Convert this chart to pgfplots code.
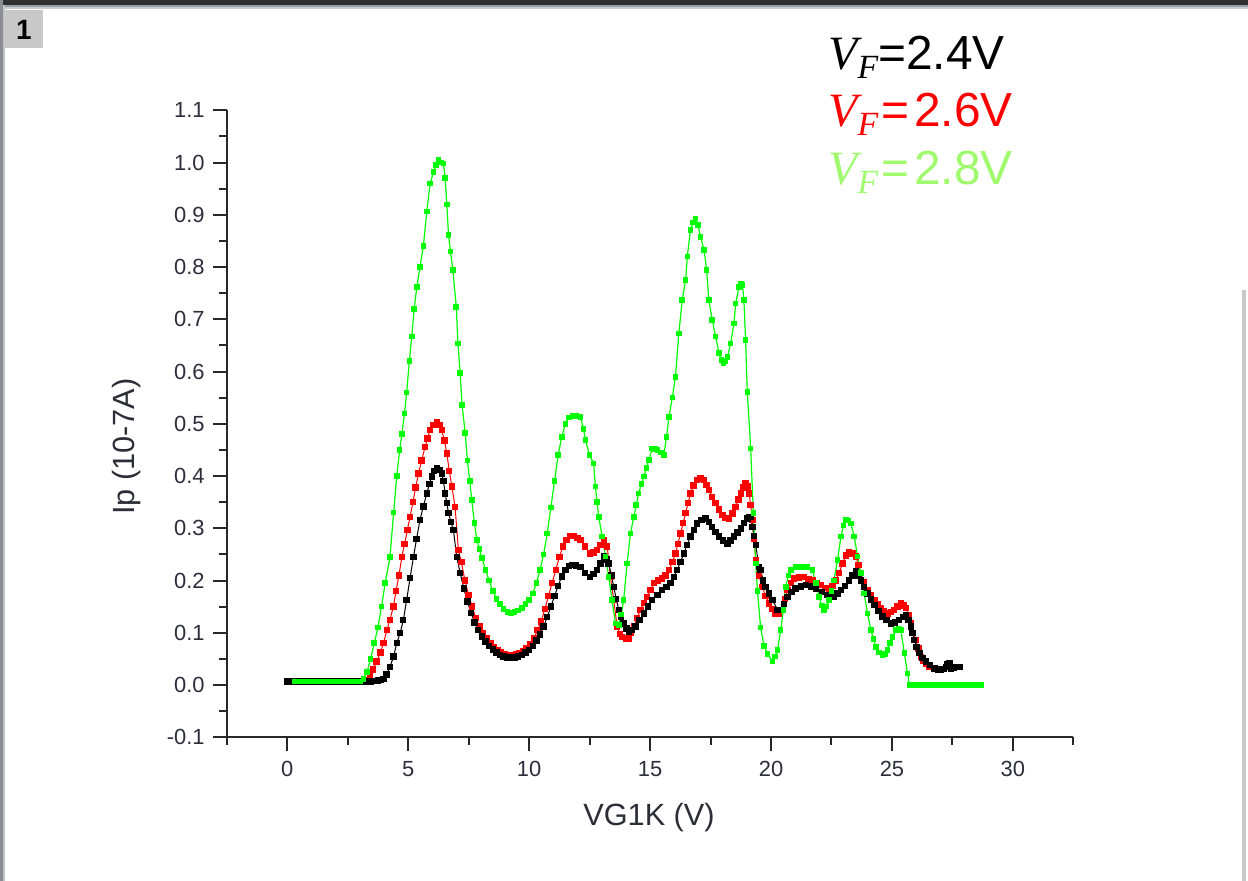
\documentclass[border=0pt]{standalone}
\usepackage{pgfplots}
\usepackage{pgfplotstable}
\pgfplotsset{compat=1.18}
\usepackage{fontspec}
\setmainfont{Liberation Sans}
\newfontfamily\seriffam{Liberation Serif}
\definecolor{cgreen}{RGB}{0,255,0}
\definecolor{lgreen}{RGB}{160,250,110}
\definecolor{axgray}{RGB}{40,40,40}
\definecolor{topbar}{RGB}{48,48,48}
\definecolor{band1}{RGB}{150,158,166}
\definecolor{band2}{RGB}{200,204,208}
\definecolor{lb1}{RGB}{138,142,146}
\definecolor{lb2}{RGB}{192,196,200}
\definecolor{tabgray}{RGB}{200,200,200}
\definecolor{ticktext}{RGB}{45,45,60}
\definecolor{labtext}{RGB}{45,45,55}

\pgfplotstableread{
x y
0.00 0.007
0.15 0.007
0.30 0.007
0.45 0.007
0.60 0.007
0.75 0.007
0.90 0.007
1.05 0.007
1.20 0.007
1.35 0.007
1.50 0.007
1.65 0.007
1.80 0.007
1.95 0.007
2.10 0.007
2.25 0.007
2.40 0.007
2.55 0.007
2.70 0.007
2.85 0.007
3.00 0.007
3.15 0.007
3.30 0.010
3.42 0.016
3.55 0.030
3.70 0.045
3.85 0.062
3.98 0.080
4.12 0.105
4.25 0.125
4.39 0.150
4.50 0.180
4.62 0.210
4.74 0.245
4.85 0.270
4.97 0.297
5.08 0.322
5.20 0.350
5.31 0.378
5.43 0.405
5.56 0.430
5.70 0.456
5.80 0.472
5.91 0.488
6.05 0.498
6.19 0.504
6.30 0.498
6.39 0.488
6.50 0.468
6.60 0.443
6.70 0.410
6.81 0.380
6.94 0.341
7.08 0.258
7.20 0.235
7.35 0.200
7.50 0.172
7.65 0.150
7.80 0.128
7.95 0.112
8.10 0.100
8.25 0.090
8.40 0.080
8.55 0.073
8.70 0.067
8.85 0.063
9.00 0.060
9.15 0.058
9.30 0.058
9.45 0.059
9.60 0.061
9.75 0.065
9.90 0.070
10.05 0.078
10.20 0.090
10.35 0.105
10.50 0.122
10.65 0.145
10.80 0.170
10.95 0.195
11.10 0.220
11.25 0.245
11.40 0.265
11.55 0.278
11.70 0.285
11.85 0.285
12.00 0.282
12.12 0.278
12.30 0.265
12.53 0.252
12.67 0.254
12.81 0.258
12.95 0.268
13.09 0.278
13.23 0.265
13.36 0.207
13.50 0.163
13.64 0.112
13.75 0.098
13.85 0.092
14.00 0.089
14.12 0.089
14.22 0.100
14.33 0.112
14.47 0.128
14.60 0.144
14.74 0.157
14.88 0.169
15.02 0.182
15.16 0.195
15.33 0.200
15.50 0.204
15.64 0.210
15.78 0.220
15.92 0.235
16.05 0.252
16.15 0.270
16.26 0.290
16.37 0.310
16.47 0.329
16.57 0.348
16.67 0.367
16.80 0.382
16.95 0.392
17.09 0.395
17.23 0.392
17.33 0.383
17.43 0.373
17.57 0.360
17.71 0.348
17.85 0.336
17.99 0.325
18.12 0.320
18.26 0.319
18.40 0.328
18.54 0.341
18.65 0.355
18.75 0.367
18.85 0.378
18.95 0.386
19.02 0.380
19.09 0.367
19.16 0.345
19.23 0.316
19.30 0.280
19.37 0.239
19.50 0.210
19.64 0.188
19.78 0.170
19.92 0.156
20.05 0.146
20.19 0.137
20.33 0.137
20.47 0.144
20.58 0.165
20.68 0.182
20.82 0.195
20.95 0.204
21.15 0.206
21.37 0.207
21.55 0.203
21.71 0.200
21.90 0.195
22.06 0.191
22.25 0.186
22.40 0.182
22.55 0.190
22.68 0.200
22.82 0.215
22.96 0.233
23.10 0.248
23.23 0.255
23.37 0.252
23.51 0.246
23.61 0.230
23.71 0.214
23.85 0.197
23.99 0.182
24.13 0.172
24.27 0.163
24.40 0.155
24.54 0.147
24.68 0.142
24.82 0.137
24.96 0.140
25.09 0.144
25.23 0.150
25.37 0.156
25.48 0.152
25.58 0.147
25.68 0.133
25.78 0.118
25.88 0.100
25.99 0.086
26.10 0.070
26.20 0.054
26.30 0.046
26.40 0.041
26.55 0.035
}\reddata

\pgfplotstableread{
x y
0.00 0.007
0.15 0.007
0.30 0.007
0.45 0.007
0.60 0.007
0.75 0.007
0.90 0.007
1.05 0.007
1.20 0.007
1.35 0.007
1.50 0.007
1.65 0.007
1.80 0.007
1.95 0.007
2.10 0.007
2.25 0.007
2.40 0.007
2.55 0.007
2.70 0.007
2.85 0.007
3.00 0.007
3.15 0.007
3.30 0.007
3.45 0.007
3.60 0.008
3.75 0.009
3.88 0.010
3.98 0.012
4.10 0.020
4.25 0.035
4.40 0.055
4.53 0.080
4.67 0.100
4.80 0.124
4.94 0.163
5.08 0.205
5.22 0.245
5.35 0.280
5.49 0.316
5.63 0.342
5.77 0.367
5.88 0.385
5.98 0.399
6.08 0.410
6.19 0.415
6.29 0.412
6.39 0.405
6.46 0.390
6.53 0.367
6.60 0.348
6.67 0.329
6.77 0.312
6.87 0.297
7.01 0.245
7.15 0.215
7.30 0.185
7.45 0.160
7.60 0.138
7.75 0.120
7.90 0.105
8.05 0.093
8.20 0.083
8.35 0.075
8.50 0.068
8.65 0.062
8.80 0.058
8.95 0.055
9.10 0.053
9.25 0.052
9.40 0.053
9.55 0.055
9.70 0.058
9.85 0.062
10.00 0.067
10.15 0.075
10.30 0.085
10.45 0.097
10.60 0.112
10.75 0.130
10.90 0.150
11.05 0.170
11.20 0.190
11.35 0.208
11.50 0.220
11.65 0.228
11.80 0.230
11.95 0.229
12.12 0.226
12.30 0.215
12.53 0.207
12.67 0.212
12.81 0.220
12.95 0.233
13.09 0.246
13.20 0.240
13.29 0.233
13.40 0.210
13.50 0.188
13.60 0.165
13.71 0.144
13.81 0.130
13.91 0.118
14.02 0.108
14.12 0.102
14.26 0.105
14.40 0.112
14.57 0.125
14.74 0.137
14.92 0.150
15.09 0.163
15.30 0.172
15.50 0.182
15.68 0.188
15.85 0.195
15.98 0.207
16.12 0.220
16.26 0.236
16.40 0.252
16.53 0.268
16.67 0.284
16.81 0.297
16.95 0.309
17.12 0.316
17.30 0.319
17.44 0.312
17.57 0.303
17.71 0.293
17.85 0.284
18.02 0.277
18.20 0.271
18.33 0.277
18.47 0.284
18.61 0.292
18.75 0.300
18.88 0.310
19.02 0.319
19.10 0.322
19.16 0.322
19.23 0.303
19.30 0.285
19.37 0.268
19.50 0.226
19.57 0.220
19.68 0.200
19.78 0.188
19.92 0.175
20.06 0.163
20.27 0.144
20.40 0.144
20.54 0.155
20.68 0.169
20.85 0.178
21.02 0.185
21.23 0.189
21.44 0.191
21.65 0.189
21.85 0.185
22.10 0.178
22.33 0.172
22.60 0.169
22.75 0.175
22.89 0.182
23.06 0.190
23.23 0.200
23.37 0.210
23.51 0.217
23.61 0.210
23.71 0.200
23.85 0.188
23.99 0.175
24.13 0.164
24.27 0.153
24.44 0.142
24.61 0.131
24.78 0.124
24.96 0.118
25.13 0.120
25.30 0.124
25.45 0.130
25.58 0.134
25.68 0.125
25.78 0.112
25.85 0.100
25.92 0.086
26.02 0.073
26.13 0.061
26.27 0.052
26.40 0.045
26.57 0.038
26.75 0.032
26.90 0.030
27.02 0.029
27.13 0.031
27.23 0.035
27.30 0.040
27.37 0.041
27.44 0.032
27.55 0.033
27.67 0.034
27.79 0.035
}\blackdata

\pgfplotstableread{
x y
0.30 0.007
0.45 0.007
0.60 0.007
0.75 0.007
0.90 0.007
1.05 0.007
1.20 0.007
1.35 0.007
1.50 0.007
1.65 0.007
1.80 0.007
1.95 0.007
2.10 0.007
2.25 0.007
2.40 0.007
2.55 0.007
2.70 0.007
2.85 0.007
3.00 0.007
3.15 0.012
3.30 0.025
3.45 0.050
3.60 0.080
3.75 0.110
3.90 0.150
4.05 0.195
4.25 0.245
4.40 0.330
4.53 0.400
4.65 0.450
4.74 0.480
4.85 0.520
4.94 0.560
5.05 0.620
5.15 0.667
5.25 0.720
5.36 0.762
5.49 0.800
5.63 0.840
5.77 0.906
5.91 0.960
6.05 0.982
6.15 0.995
6.25 1.005
6.35 1.000
6.46 0.998
6.53 0.970
6.60 0.920
6.67 0.861
6.75 0.830
6.85 0.794
6.99 0.724
7.06 0.654
7.15 0.597
7.23 0.536
7.36 0.482
7.45 0.430
7.55 0.390
7.63 0.354
7.74 0.310
7.84 0.278
7.95 0.260
8.05 0.243
8.20 0.220
8.35 0.200
8.50 0.180
8.65 0.165
8.80 0.155
8.95 0.145
9.10 0.140
9.25 0.138
9.40 0.140
9.55 0.143
9.70 0.148
9.85 0.155
10.00 0.163
10.15 0.175
10.30 0.195
10.45 0.220
10.60 0.250
10.75 0.290
10.90 0.340
11.05 0.390
11.20 0.440
11.35 0.475
11.50 0.500
11.65 0.512
11.80 0.515
11.95 0.515
12.12 0.513
12.25 0.490
12.33 0.469
12.50 0.440
12.67 0.424
12.74 0.380
12.81 0.350
12.88 0.322
13.02 0.284
13.16 0.246
13.29 0.207
13.43 0.163
13.57 0.118
13.71 0.115
13.81 0.135
13.91 0.163
14.05 0.233
14.19 0.290
14.33 0.322
14.43 0.345
14.53 0.367
14.64 0.385
14.74 0.399
14.85 0.415
14.95 0.431
15.09 0.453
15.20 0.452
15.30 0.450
15.45 0.445
15.57 0.440
15.68 0.475
15.78 0.513
15.92 0.550
16.05 0.590
16.19 0.673
16.33 0.737
16.47 0.775
16.54 0.820
16.67 0.871
16.78 0.885
16.88 0.893
16.98 0.880
17.09 0.858
17.23 0.833
17.34 0.794
17.43 0.737
17.57 0.699
17.71 0.667
17.85 0.635
17.95 0.622
18.03 0.616
18.12 0.620
18.20 0.628
18.33 0.654
18.47 0.692
18.54 0.730
18.67 0.762
18.75 0.768
18.82 0.766
18.88 0.737
18.95 0.660
19.02 0.561
19.16 0.453
19.27 0.329
19.37 0.233
19.44 0.180
19.57 0.110
19.71 0.075
19.85 0.060
20.06 0.045
20.17 0.055
20.27 0.067
20.40 0.105
20.51 0.144
20.61 0.188
20.72 0.210
20.82 0.220
21.02 0.226
21.20 0.226
21.35 0.226
21.51 0.226
21.71 0.220
21.85 0.195
21.99 0.169
22.10 0.152
22.20 0.144
22.30 0.150
22.40 0.163
22.50 0.180
22.60 0.200
22.75 0.239
22.89 0.284
23.00 0.305
23.09 0.316
23.20 0.315
23.30 0.309
23.44 0.284
23.58 0.246
23.71 0.214
23.85 0.175
23.99 0.137
24.13 0.105
24.24 0.088
24.34 0.073
24.47 0.062
24.61 0.057
24.72 0.060
24.82 0.067
24.93 0.080
25.03 0.092
25.16 0.105
25.27 0.107
25.37 0.105
25.51 0.061
25.65 0.022
25.72 0.000
25.85 0.000
26.00 0.000
26.15 0.000
26.30 0.000
26.45 0.000
26.60 0.000
26.75 0.000
26.90 0.000
27.05 0.000
27.20 0.000
27.35 0.000
27.50 0.000
27.65 0.000
27.80 0.000
27.95 0.000
28.10 0.000
28.25 0.000
28.40 0.000
28.55 0.000
28.68 0.000
}\greendata

\begin{document}
\begin{tikzpicture}
% page and window chrome (1 px = 0.5 bp)
\fill[white] (0,0) rectangle (624bp,-440.5bp);
\path[use as bounding box] (0,0) rectangle (624bp,-440.5bp);
\fill[topbar] (0,0) rectangle (624bp,-2.25bp);
\fill[band1] (0,-2.25bp) rectangle (624bp,-3.5bp);
\fill[band2] (0,-3.5bp) rectangle (624bp,-4.5bp);
\fill[lb1] (0,0) rectangle (1.4bp,-440.5bp);
\fill[lb2] (1.4bp,-2.25bp) rectangle (2.5bp,-440.5bp);
\fill[tabgray] (2bp,-5bp) rectangle (21.5bp,-24bp);
\node[font=\fontsize{14}{16}\selectfont\bfseries, text=black] at (12bp,-15.2bp) {1};
\fill[tabgray] (621bp,-145bp) rectangle (623bp,-440.5bp);

\begin{axis}[
  at={(113.35bp,-368.65bp)}, anchor=south west,
  scale only axis,
  width=423.35bp, height=313.5bp,
  xmin=-2.5, xmax=32.5, ymin=-0.1, ymax=1.1,
  axis x line=bottom, axis y line=left,
  axis line style={-, line width=1bp, draw=axgray},
  every tick/.style={line width=1bp, draw=axgray},
  tick align=outside,
  major tick length=7bp, minor tick length=3.8bp,
  xtick={0,5,10,15,20,25,30},
  xticklabels={0,5,10,15,20,25,30},
  minor xtick={-2.5,2.5,7.5,12.5,17.5,22.5,27.5,32.5},
  ytick={-0.1,0,0.1,0.2,0.3,0.4,0.5,0.6,0.7,0.8,0.9,1.0,1.1},
  yticklabels={-0.1,0.0,0.1,0.2,0.3,0.4,0.5,0.6,0.7,0.8,0.9,1.0,1.1},
  minor ytick={-0.05,0.05,0.15,0.25,0.35,0.45,0.55,0.65,0.75,0.85,0.95,1.05},
  tick label style={font=\fontsize{11}{13}\selectfont, text=ticktext},
  xticklabel style={yshift=-1.5bp},
  yticklabel style={xshift=-0.5bp},
  xlabel={VG1K (V)},
  ylabel={Ip (10-7A)},
  label style={font=\fontsize{15.4}{18}\selectfont, text=labtext},
  xlabel style={at={(axis description cs:0.4988,-0.1399)}, anchor=base},
  ylabel style={at={(axis description cs:-0.1178,0.4638)}, anchor=center},
  clip=false,
]
\addplot[red, line width=0.5bp, mark=square*, mark size=1.35bp, mark options={solid, fill=red, draw=red}] table[x=x,y=y] {\reddata};
\addplot[black, line width=0.5bp, mark=square*, mark size=1.35bp, mark options={solid, fill=black, draw=black}] table[x=x,y=y] {\blackdata};
\addplot[cgreen, line width=0.6bp, mark=square*, mark size=1.1bp, mark options={solid, fill=cgreen, draw=cgreen}] table[x=x,y=y] {\greendata};
\end{axis}

% legend text
\node[anchor=base west, inner sep=0, text=black] at (414bp,-34.5bp)
  {\fontsize{24}{28}\selectfont{\seriffam\itshape V\raisebox{-4.5bp}{\fontsize{17}{17}\selectfont F}}=2.4V};
\node[anchor=base west, inner sep=0, text=red] at (414bp,-63bp)
  {\fontsize{24}{28}\selectfont{\seriffam\itshape V\raisebox{-4.5bp}{\fontsize{17}{17}\selectfont F}}\kern1.5bp=\kern2.5bp2.6V};
\node[anchor=base west, inner sep=0, text=lgreen] at (414bp,-92bp)
  {\fontsize{24}{28}\selectfont{\seriffam\itshape V\raisebox{-4.5bp}{\fontsize{17}{17}\selectfont F}}\kern1.5bp=\kern2.5bp2.8V};
\end{tikzpicture}
\end{document}
